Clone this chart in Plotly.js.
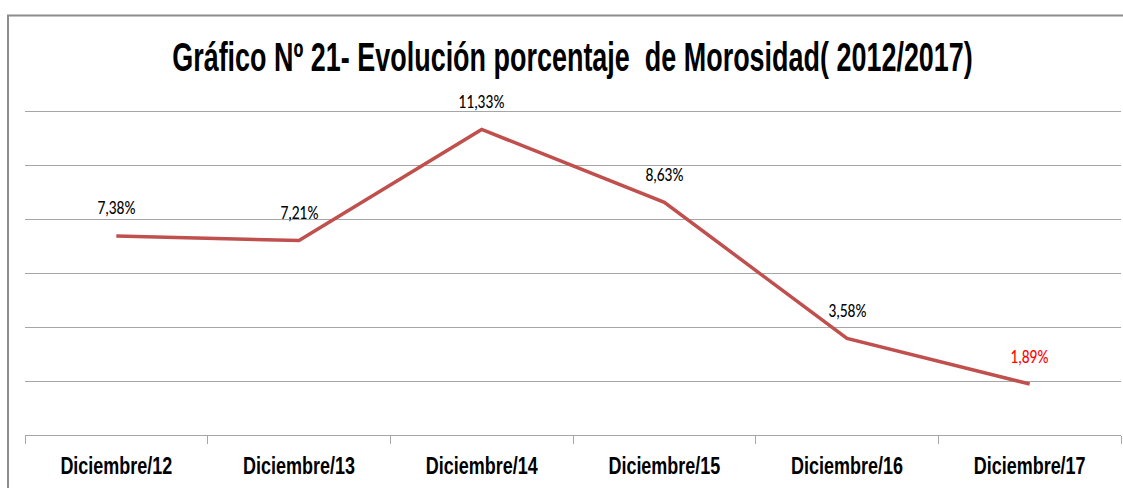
<!DOCTYPE html>
<html>
<head>
<meta charset="utf-8">
<script src="https://cdn.plot.ly/plotly-3.0.1.min.js"></script>
<style>
html,body{margin:0;padding:0;background:#fff;}
#chart{width:1123px;height:488px;}
</style>
</head>
<body>
<div id="chart"></div>
<script>
var categories = ["Diciembre/12","Diciembre/13","Diciembre/14","Diciembre/15","Diciembre/16","Diciembre/17"];
var morosidad = [7.38, 7.21, 11.33, 8.63, 3.58, 1.89];
var labels = ["7,38%","7,21%","11,33%","8,63%","3,58%","1,89%"];
var labelColors = ["#000000","#000000","#000000","#000000","#000000","#FF0000"];
var titleText = "Gráfico Nº 21- Evolución porcentaje  de Morosidad( 2012/2017)";

var sans = "'Liberation Sans', Arial, sans-serif";
var labelFont = "Lato, 'Liberation Sans', sans-serif";

var trace = {
  x: categories,
  y: morosidad,
  type: "scatter",
  mode: "lines",
  line: {color: "#C0504D", width: 3.5},
  hoverinfo: "none"
};

var annotations = categories.map(function(c, i){
  return {
    x: c, y: morosidad[i], xref: "x", yref: "y",
    text: labels[i], showarrow: false, yshift: 28,
    font: {family: labelFont, size: 17, color: labelColors[i], weight: 500}
  };
});

var layout = {
  width: 1123, height: 488,
  margin: {l: 25, r: 2, t: 106, b: 53},
  paper_bgcolor: "#ffffff",
  plot_bgcolor: "#ffffff",
  showlegend: false,
  title: {
    text: titleText,
    font: {family: sans, size: 40, color: "#000000", weight: "bold"},
    xref: "container", yref: "container",
    x: 572.5/1123, xanchor: "center", y: 1 - 57.5/488, yanchor: "middle"
  },
  xaxis: {
    type: "category",
    range: [-0.5, 5.5],
    tickson: "boundaries",
    ticks: "outside", ticklen: 8, tickcolor: "#A6A6A6", tickwidth: 1,
    showline: true, linecolor: "#A6A6A6", linewidth: 1,
    showgrid: false, zeroline: false,
    tickfont: {family: sans, size: 23, color: "#000000", weight: "bold"},
    ticklabelstandoff: 10,
    fixedrange: true
  },
  yaxis: {
    range: [0, 12.2], tickvals: [2, 4, 6, 8, 10, 12],
    showgrid: true, gridcolor: "#A6A6A6", gridwidth: 1,
    showticklabels: false, ticks: "", showline: false, zeroline: false,
    fixedrange: true
  },
  annotations: annotations,
  shapes: [{
    type: "rect", xref: "paper", yref: "paper",
    x0: -0.0155, x1: 1.02, y0: -0.3, y1: 1.275,
    line: {color: "#8C8C8C", width: 2}, fillcolor: "rgba(0,0,0,0)", layer: "below"
  }]
};

// emulate the narrow (condensed) typeface of the original by squeezing text horizontally
function squeeze(el, factor){
  var bb = el.getBBox();
  var cx = bb.x + bb.width / 2;
  var prev = el.getAttribute("transform") || "";
  el.setAttribute("transform", prev + " translate(" + cx + ",0) scale(" + factor + ",1) translate(" + (-cx) + ",0)");
}

Plotly.newPlot("chart", [trace], layout, {displayModeBar: false, staticPlot: true}).then(function(gd){
  var t = gd.querySelector(".gtitle");
  if (t) squeeze(t, 801 / t.getBBox().width);
  var ticks = gd.querySelectorAll(".xtick text");
  if (ticks.length) {
    var f = 112 / ticks[0].getBBox().width;
    ticks.forEach(function(el){ squeeze(el, f); });
  }
  var ann = gd.querySelectorAll(".annotation-text-g text");
  if (ann.length) {
    var fa = 38 / ann[0].getBBox().width;
    ann.forEach(function(el){ squeeze(el, fa); });
  }
});
</script>
</body>
</html>
